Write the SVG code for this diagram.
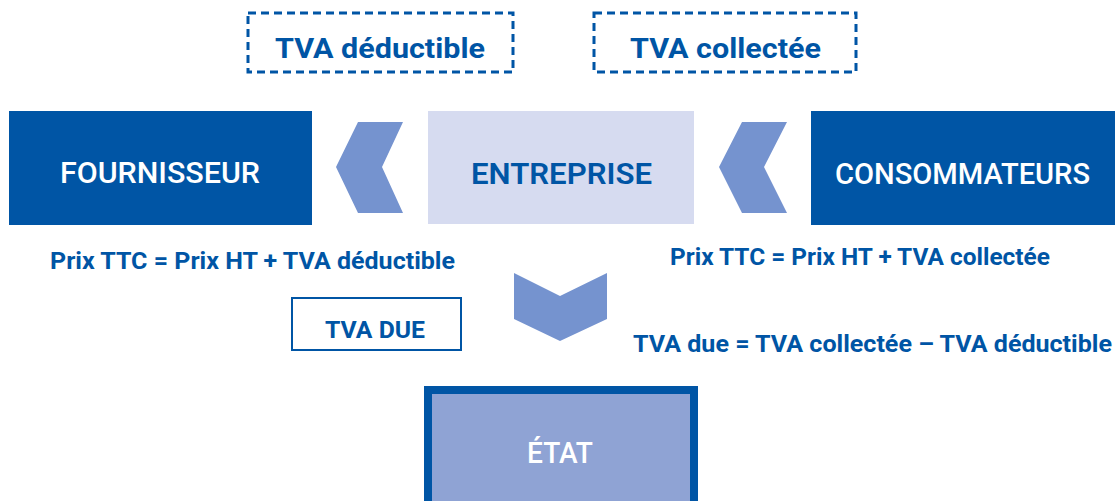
<svg xmlns="http://www.w3.org/2000/svg" width="1115" height="501" viewBox="0 0 1115 501">
<style>
.blue{fill:#0055a5}
.t{font-family:Roboto,"Liberation Sans",sans-serif;text-anchor:middle}
.tb{font-weight:700;fill:#0055a5}
.tw{font-weight:500;fill:#ffffff}
.dash{fill:none;stroke:#0055a5;stroke-width:3;stroke-dasharray:8 5}
.chev{fill:#7593cf}
</style>
<rect width="1115" height="501" fill="#ffffff"/>
<g id="tva-deductible">
<rect class="dash" x="248" y="13" width="265" height="59"/>
<text class="t tb" x="380" y="58" font-size="28" textLength="210" lengthAdjust="spacingAndGlyphs">TVA déductible</text>
</g>
<g id="tva-collectee">
<rect class="dash" x="594" y="13" width="262" height="59"/>
<text class="t tb" x="725.5" y="58" font-size="28" textLength="191" lengthAdjust="spacingAndGlyphs">TVA collectée</text>
</g>
<g id="fournisseur">
<rect class="blue" x="9" y="111" width="303" height="114"/>
<text class="t tw" x="160" y="183" font-size="29" textLength="200" lengthAdjust="spacingAndGlyphs">FOURNISSEUR</text>
</g>
<g id="entreprise">
<rect x="428" y="111" width="266" height="113" fill="#d6dbf0"/>
<text class="t tb" x="561.5" y="184" font-size="29" textLength="181" lengthAdjust="spacingAndGlyphs" style="font-weight:600">ENTREPRISE</text>
</g>
<g id="consommateurs">
<rect class="blue" x="811" y="111" width="304" height="114"/>
<text class="t tw" x="962.5" y="184" font-size="29" textLength="255" lengthAdjust="spacingAndGlyphs">CONSOMMATEURS</text>
</g>
<g id="tva-due">
<rect x="292" y="298" width="169" height="52" fill="none" stroke="#0055a5" stroke-width="2"/>
<text class="t tb" x="375" y="338" font-size="24" textLength="100" lengthAdjust="spacingAndGlyphs">TVA DUE</text>
</g>
<g id="etat">
<rect x="428" y="390" width="266" height="115" fill="#8fa3d4" stroke="#0055a5" stroke-width="8"/>
<text class="t tw" x="560" y="463" font-size="29" textLength="66" lengthAdjust="spacingAndGlyphs">ÉTAT</text>
</g>
<g id="connectors">
<polygon class="chev" points="358,122 403,122 382,167 403,213 358,213 336,167"/>
<polygon class="chev" points="742,122 787,122 764,167 787,213 742,213 719,167"/>
<polygon class="chev" points="514,273 560,296 607,273 607,319 560,341 514,319"/>
</g>
<g id="labels">
<text class="t tb" x="252.5" y="269" font-size="23" textLength="405" lengthAdjust="spacingAndGlyphs">Prix TTC = Prix HT + TVA déductible</text>
<text class="t tb" x="860" y="265" font-size="23" textLength="380" lengthAdjust="spacingAndGlyphs">Prix TTC = Prix HT + TVA collectée</text>
<text class="t tb" x="872.5" y="352" font-size="23" textLength="479" lengthAdjust="spacingAndGlyphs">TVA due = TVA collectée – TVA déductible</text>
</g>
</svg>
